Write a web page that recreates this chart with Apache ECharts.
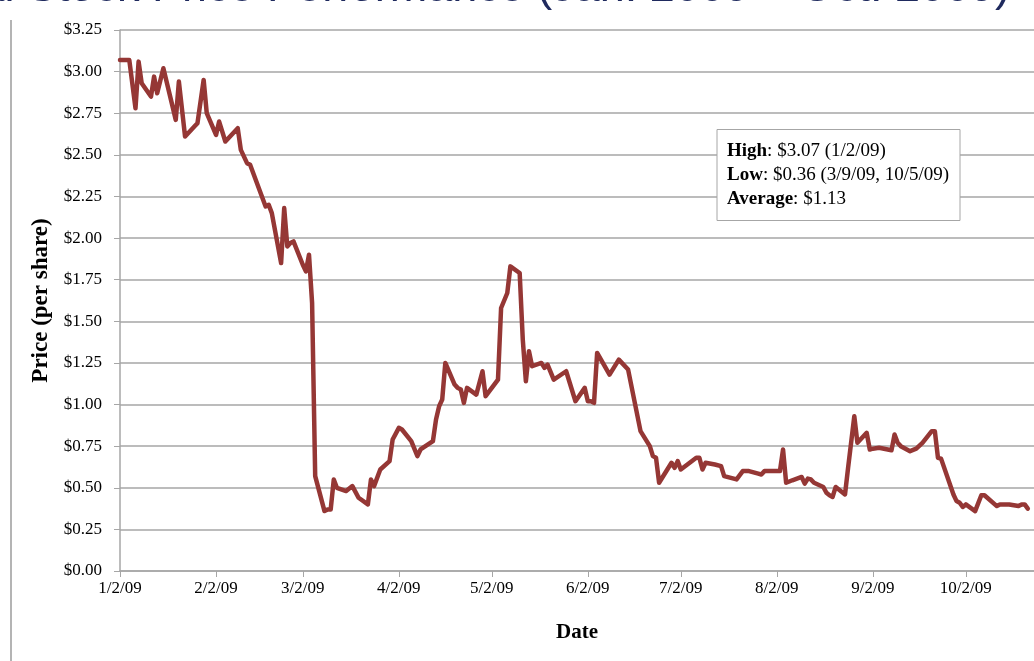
<!DOCTYPE html>
<html>
<head>
<meta charset="utf-8">
<script src="https://cdn.jsdelivr.net/npm/echarts@6/dist/echarts.min.js"></script>
<style>
html,body{margin:0;padding:0;background:#fff;}
#chart{width:1034px;height:661px;}
</style>
</head>
<body>
<div id="chart"></div>
<script>
// ---- data ----
const dates = [
 '1/2/09','1/5/09','1/7/09','1/8/09','1/9/09','1/12/09','1/13/09','1/14/09','1/16/09','1/20/09',
 '1/21/09','1/23/09','1/26/09','1/27/09','1/29/09','1/30/09','2/2/09','2/3/09','2/5/09','2/9/09',
 '2/10/09','2/12/09','2/13/09','2/18/09','2/19/09','2/20/09','2/23/09','2/24/09','2/25/09','2/26/09',
 '2/27/09','3/2/09','3/3/09','3/4/09','3/5/09','3/6/09','3/9/09','3/10/09','3/11/09','3/12/09',
 '3/13/09','3/16/09','3/18/09','3/20/09','3/23/09','3/24/09','3/25/09','3/27/09','3/30/09','3/31/09',
 '4/2/09','4/3/09','4/6/09','4/8/09','4/9/09','4/13/09','4/14/09','4/15/09','4/16/09','4/17/09',
 '4/20/09','4/21/09','4/22/09','4/23/09','4/24/09','4/27/09','4/29/09','4/30/09','5/4/09','5/5/09',
 '5/7/09','5/8/09','5/11/09','5/12/09','5/13/09','5/14/09','5/15/09','5/18/09','5/19/09','5/20/09',
 '5/22/09','5/26/09','5/29/09','6/1/09','6/2/09','6/3/09','6/4/09','6/5/09','6/9/09','6/12/09',
 '6/15/09','6/19/09','6/22/09','6/23/09','6/24/09','6/25/09','6/29/09','6/30/09','7/1/09','7/2/09',
 '7/7/09','7/8/09','7/9/09','7/10/09','7/13/09','7/15/09','7/16/09','7/20/09','7/22/09','7/24/09',
 '7/27/09','7/28/09','7/29/09','8/3/09','8/4/09','8/5/09','8/7/09','8/10/09','8/11/09','8/12/09',
 '8/13/09','8/14/09','8/17/09','8/18/09','8/19/09','8/20/09','8/21/09','8/24/09','8/25/09','8/27/09',
 '8/28/09','8/31/09','9/1/09','9/2/09','9/4/09','9/8/09','9/9/09','9/10/09','9/11/09','9/14/09',
 '9/16/09','9/18/09','9/21/09','9/22/09','9/23/09','9/24/09','9/28/09','9/29/09','9/30/09','10/1/09',
 '10/2/09','10/5/09','10/7/09','10/8/09','10/12/09','10/13/09','10/16/09','10/19/09','10/20/09','10/21/09',
 '10/22/09'
];
const prices = [
 3.07,3.07,2.78,3.06,2.93,2.85,2.97,2.87,3.02,2.71,
 2.94,2.61,2.67,2.69,2.95,2.75,2.62,2.70,2.58,2.66,
 2.53,2.45,2.44,2.19,2.20,2.15,1.85,2.18,1.95,1.97,
 1.98,1.84,1.80,1.90,1.61,0.57,0.36,0.37,0.37,0.55,
 0.50,0.48,0.51,0.44,0.40,0.55,0.51,0.61,0.66,0.79,
 0.86,0.85,0.78,0.69,0.73,0.78,0.91,0.99,1.03,1.25,
 1.12,1.10,1.09,1.01,1.10,1.06,1.20,1.05,1.15,1.58,
 1.67,1.83,1.79,1.39,1.14,1.32,1.23,1.25,1.22,1.24,
 1.15,1.20,1.02,1.10,1.02,1.02,1.01,1.31,1.18,1.27,
 1.21,0.84,0.75,0.69,0.68,0.53,0.65,0.62,0.66,0.61,
 0.68,0.68,0.61,0.65,0.64,0.63,0.57,0.55,0.60,0.60,
 0.585,0.58,0.60,0.60,0.73,0.53,0.545,0.565,0.525,0.555,
 0.55,0.53,0.505,0.47,0.455,0.445,0.505,0.46,0.62,0.93,
 0.77,0.83,0.73,0.735,0.74,0.725,0.82,0.77,0.75,0.72,
 0.735,0.77,0.84,0.84,0.68,0.675,0.46,0.42,0.41,0.385,
 0.40,0.36,0.455,0.455,0.39,0.40,0.40,0.39,0.40,0.40,
 0.375
];
const xTickLabels = ['1/2/09','2/2/09','3/2/09','4/2/09','5/2/09','6/2/09','7/2/09','8/2/09','9/2/09','10/2/09'];
const statLines = [
 ['High', '$3.07 (1/2/09)'],
 ['Low', '$0.36 (3/9/09, 10/5/09)'],
 ['Average', '$1.13']
];
const chartTitle = 'Historical Stock Price Performance (Jan. 2009 \u2013 Oct. 2009)';

// ---- helpers ----
function dayOf(s) {
  const p = s.split('/').map(Number);
  return Math.round((Date.UTC(2000 + p[2], p[0] - 1, p[1]) - Date.UTC(2009, 0, 2)) / 86400000);
}
const tickDays = xTickLabels.map(dayOf);
const labelByDay = {};
xTickLabels.forEach((l, i) => { labelByDay[tickDays[i]] = l; });
const seriesData = dates.map((d, i) => [dayOf(d), prices[i]]);

const SERIF = '"Liberation Serif", "Times New Roman", serif';
const GRID_COLOR = '#A6A6A6';

const chart = echarts.init(document.getElementById('chart'), null, { renderer: 'canvas' });
chart.setOption({
  animation: false,
  backgroundColor: '#ffffff',
  grid: { left: 120, right: 0, top: 30, bottom: 90, containLabel: false },
  xAxis: {
    type: 'value',
    min: 0,
    max: 295,
    name: 'Date',
    nameLocation: 'middle',
    nameGap: 51,
    nameTextStyle: { fontFamily: SERIF, fontWeight: 'bold', fontSize: 21, color: '#000' },
    axisLine: { show: true, onZero: false, lineStyle: { color: GRID_COLOR, width: 1.5 } },
    axisTick: { show: true, customValues: tickDays, length: 6, inside: false, lineStyle: { color: GRID_COLOR, width: 1 } },
    axisLabel: {
      customValues: tickDays,
      formatter: v => labelByDay[v] || '',
      fontFamily: SERIF, fontSize: 17, color: '#000', margin: 9
    },
    splitLine: { show: false }
  },
  yAxis: {
    type: 'value',
    min: 0,
    max: 3.25,
    interval: 0.25,
    name: 'Price (per share)',
    nameLocation: 'middle',
    nameRotate: 90,
    nameGap: 57,
    nameTextStyle: { fontFamily: SERIF, fontWeight: 'bold', fontSize: 23, color: '#000' },
    axisLine: { show: true, lineStyle: { color: GRID_COLOR, width: 1.5 } },
    axisTick: { show: true, length: 6, inside: false, lineStyle: { color: GRID_COLOR, width: 1 } },
    axisLabel: {
      formatter: v => '$' + v.toFixed(2),
      fontFamily: SERIF, fontSize: 17, color: '#000', margin: 18
    },
    splitLine: { show: true, lineStyle: { color: GRID_COLOR, width: 1.5 } }
  },
  series: [{
    type: 'line',
    data: seriesData,
    showSymbol: false,
    smooth: false,
    lineStyle: { color: '#953735', width: 4.5, cap: 'round', join: 'round' },
    itemStyle: { color: '#953735' }
  }],
  graphic: [
    {
      type: 'line',
      shape: { x1: 11, y1: 20, x2: 11, y2: 661 },
      style: { stroke: '#B4B4B4', lineWidth: 2 },
      silent: true
    },
    {
      type: 'text',
      x: 1010,
      y: -11,
      style: {
        text: chartTitle,
        fill: '#1F2A5E',
        font: 'normal 45px "Liberation Sans", Arial, sans-serif',
        align: 'right',
        verticalAlign: 'middle'
      },
      silent: true
    },
    {
      type: 'rect',
      shape: { x: 717, y: 129.5, width: 243, height: 91 },
      style: { fill: '#ffffff', stroke: '#A6A6A6', lineWidth: 1 },
      z: 100
    },
    {
      type: 'text',
      x: 727,
      y: 139,
      z: 101,
      style: {
        text: statLines.map(l => '{b|' + l[0] + '}: ' + l[1]).join('\n'),
        fill: '#000',
        fontFamily: SERIF,
        fontSize: 19,
        lineHeight: 24,
        align: 'left',
        verticalAlign: 'top',
        rich: {
          b: { fontFamily: SERIF, fontSize: 19, fontWeight: 'bold', fill: '#000', lineHeight: 24 }
        }
      }
    }
  ]
});
</script>
</body>
</html>
